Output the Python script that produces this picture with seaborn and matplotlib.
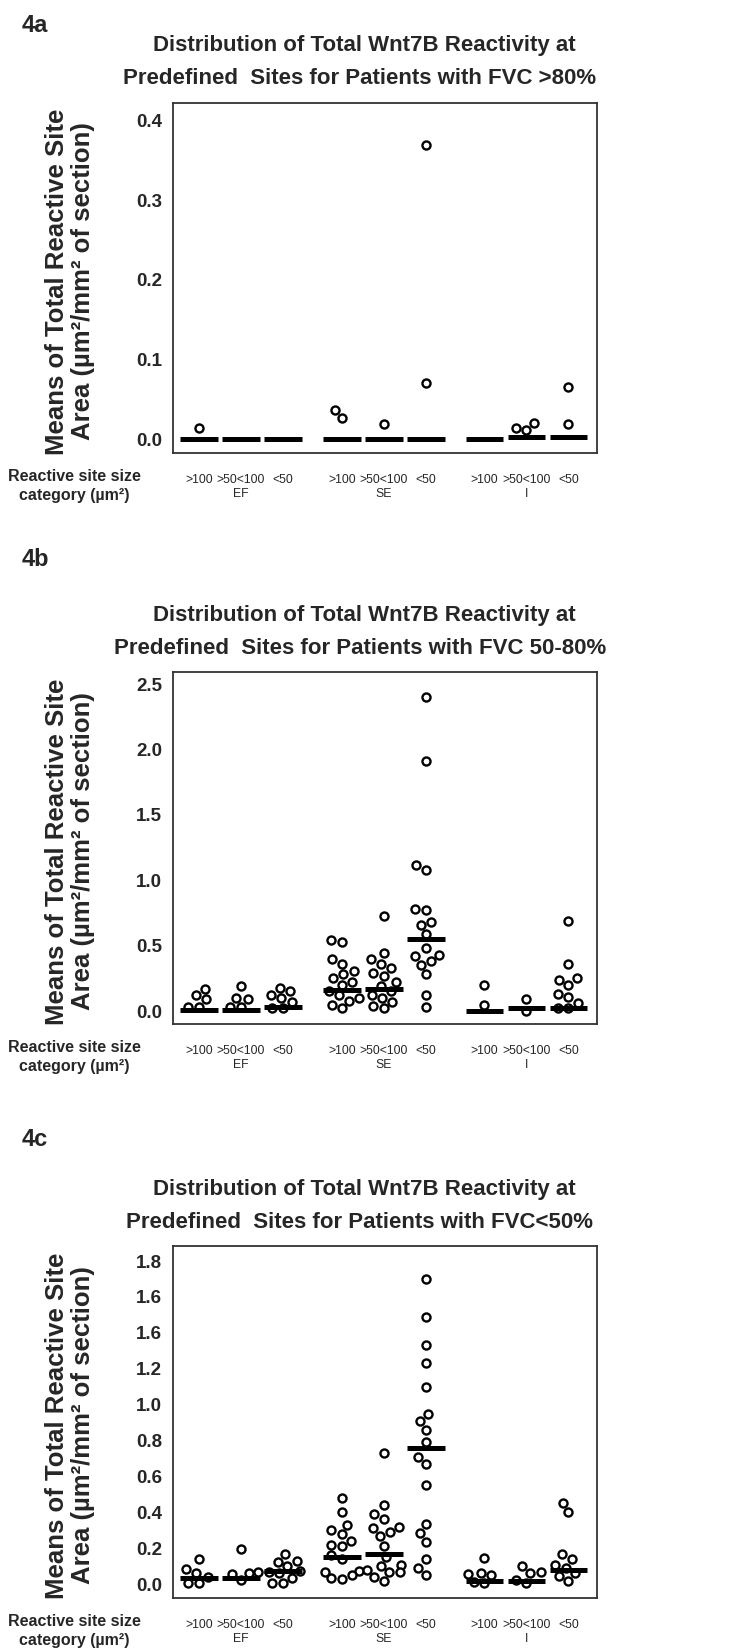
import numpy as np
import pandas as pd
import matplotlib
matplotlib.use("Agg")
import matplotlib.pyplot as plt
import seaborn as sns

# --- DATA ---
SITES = ["EF", "SE", "I"]
SIZES = [">100", ">50<100", "<50"]

# 4a: FVC > 80%  (one list per size category, within each site)
a_ef = [[0.014], [], []]
a_se = [[0.037, 0.027], [0.019], [0.370, 0.070]]
a_i = [[], [0.014, 0.020, 0.011], [0.066, 0.019]]
a_med = [0.0, 0.0, 0.0, 0.0, 0.0, 0.0, 0.0, 0.002, 0.002]

# 4b: FVC 50-80%
b_ef = [[0.17, 0.12, 0.09, 0.03, 0.03],
        [0.19, 0.10, 0.09, 0.03, 0.03],
        [0.18, 0.15, 0.12, 0.10, 0.07, 0.02, 0.02]]
b_se = [[0.54, 0.53, 0.40, 0.36, 0.31, 0.28, 0.25, 0.22, 0.20, 0.15, 0.12, 0.10, 0.08, 0.05, 0.02],
        [0.73, 0.44, 0.40, 0.36, 0.33, 0.29, 0.27, 0.22, 0.19, 0.15, 0.12, 0.10, 0.07, 0.04, 0.02],
        [2.40, 1.91, 1.12, 1.08, 0.78, 0.77, 0.68, 0.66, 0.59, 0.48, 0.43, 0.42, 0.38, 0.35, 0.28, 0.12, 0.03]]
b_i = [[0.20, 0.05],
       [0.09, 0.00],
       [0.69, 0.36, 0.25, 0.24, 0.20, 0.13, 0.11, 0.06, 0.02, 0.02]]
b_med = [0.01, 0.01, 0.03, 0.16, 0.17, 0.55, 0.0, 0.025, 0.025]

# 4c: FVC < 50%
c_ef = [[0.14, 0.085, 0.06, 0.04, 0.005, 0.005],
        [0.195, 0.065, 0.06, 0.055, 0.02],
        [0.165, 0.13, 0.125, 0.10, 0.07, 0.065, 0.06, 0.035, 0.005, 0.005]]
c_se = [[0.48, 0.40, 0.33, 0.30, 0.28, 0.24, 0.22, 0.21, 0.16, 0.14, 0.07, 0.065, 0.05, 0.035, 0.03],
        [0.73, 0.44, 0.39, 0.36, 0.32, 0.31, 0.29, 0.265, 0.21, 0.15, 0.105, 0.10, 0.078, 0.069, 0.065, 0.04, 0.015],
        [1.70, 1.49, 1.33, 1.23, 1.10, 0.95, 0.91, 0.86, 0.79, 0.71, 0.67, 0.55, 0.335, 0.285, 0.235, 0.14, 0.09, 0.05]]
c_i = [[0.145, 0.06, 0.055, 0.05, 0.01, 0.005],
       [0.10, 0.065, 0.06, 0.02, 0.005],
       [0.45, 0.40, 0.17, 0.14, 0.105, 0.09, 0.06, 0.045, 0.015]]
c_med = [0.035, 0.035, 0.075, 0.15, 0.17, 0.76, 0.015, 0.015, 0.08]

a_ticks = [0.0, 0.1, 0.2, 0.3, 0.4]
a_ticklabels = ["0.0", "0.1", "0.2", "0.3", "0.4"]
b_ticks = [0.0, 0.5, 1.0, 1.5, 2.0, 2.5]
b_ticklabels = ["0.0", "0.5", "1.0", "1.5", "2.0", "2.5"]
c_ticks = [0.0, 0.2, 0.4, 0.6, 0.8, 1.0, 1.2, 1.4, 1.6, 1.8]
c_ticklabels = ["0.0", "0.2", "0.4", "0.6", "0.8", "1.0", "1.2", "1.6", "1.6", "1.8"]

TITLE_1 = "Distribution of Total Wnt7B Reactivity at"
a_title = "Predefined  Sites for Patients with FVC >80%"
b_title = "Predefined  Sites for Patients with FVC 50-80%"
c_title = "Predefined  Sites for Patients with FVC<50%"
YLABEL = "Means of Total Reactive Site\nArea (\u00b5m\u00b2/mm\u00b2 of section)"
XLABEL = "Reactive site size\ncategory (\u00b5m\u00b2)"

# --- LAYOUT (pixels of the 734x1651 target) ---
W, H = 734, 1651
GROUP_STEP = 3.4
CONDENSED = ["DejaVu Sans Condensed", "Liberation Sans", "DejaVu Sans"]


def fx(px):
    return px / W


def fy(py):
    return 1 - py / H


def to_frame(ef, se, i):
    rows = []
    for g, site in enumerate([ef, se, i]):
        for s, vals in enumerate(site):
            for v in vals:
                rows.append({"site": SITES[g], "size": SIZES[s],
                             "pos": g * GROUP_STEP + s, "value": v})
    return pd.DataFrame(rows)


sns.set_style("white")
plt.rcParams["font.family"] = ["Liberation Sans", "DejaVu Sans"]

fig = plt.figure(figsize=(W / 100, H / 100), dpi=100)

panels = [
    dict(tag="4a", data=(a_ef, a_se, a_i), med=a_med, title=a_title,
         top=103, bottom=453, tag_y=25, ylim=(-0.0176, 0.4226),
         ticks=a_ticks, labels=a_ticklabels),
    dict(tag="4b", data=(b_ef, b_se, b_i), med=b_med, title=b_title,
         top=672, bottom=1024, tag_y=560, ylim=(-0.099, 2.592),
         ticks=b_ticks, labels=b_ticklabels),
    dict(tag="4c", data=(c_ef, c_se, c_i), med=c_med, title=c_title,
         top=1246, bottom=1598, tag_y=1140, ylim=(-0.078, 1.884),
         ticks=c_ticks, labels=c_ticklabels),
]

positions = [g * GROUP_STEP + s for g in range(3) for s in range(3)]
xticklabels = []
for g, site in enumerate(SITES):
    for s, size in enumerate(SIZES):
        xticklabels.append(size + "\n" + site if s == 1 else size)

for p in panels:
    left, right = 173, 597
    ax = fig.add_axes([fx(left), fy(p["bottom"]), fx(right) - fx(left),
                       (p["bottom"] - p["top"]) / H])
    df = to_frame(*p["data"])
    sns.swarmplot(data=df, x="pos", y="value", native_scale=True, ax=ax,
                  color="white", edgecolor="black", linewidth=1.7, size=5.8,
                  zorder=2, warn_thresh=1.0)
    ax.hlines(p["med"], np.array(positions) - 0.45, np.array(positions) + 0.45,
              color="black", lw=3.6, zorder=3)

    ax.set_xlim(-0.62, 9.48)
    ax.set_ylim(*p["ylim"])
    ax.set_xticks(positions)
    ax.set_xticklabels(xticklabels, fontsize=8.8, linespacing=1.25,
                       family=CONDENSED)
    ax.set_yticks(p["ticks"])
    ax.set_yticklabels(p["labels"], fontsize=13.5, fontweight="bold")
    ax.tick_params(axis="x", length=12, width=2.6, pad=3, color="black")
    ax.tick_params(axis="y", length=6, width=2.6, pad=2, color="black")
    ax.set_xlabel("")
    ax.set_ylabel(YLABEL, fontsize=18.5, fontweight="bold", linespacing=1.1)
    ax.yaxis.set_label_coords(-0.185, 0.49)
    for sp in ax.spines.values():
        sp.set_visible(True)
        sp.set_color("#333333")
        sp.set_linewidth(1.3)

    # titles, panel tag, size-category label
    fig.text(fx(364), fy(p["top"] - 57), TITLE_1, ha="center", va="center",
             fontsize=16, fontweight="bold")
    fig.text(fx(360), fy(p["top"] - 24), p["title"], ha="center", va="center",
             fontsize=16, fontweight="bold")
    fig.text(fx(22), fy(p["tag_y"]), p["tag"], ha="left", va="center",
             fontsize=17, fontweight="bold")
    fig.text(fx(74), fy(p["bottom"] + 16), XLABEL, ha="center", va="top",
             fontsize=11.5, fontweight="bold", linespacing=1.3)

fig.savefig("out.png", dpi=100)
